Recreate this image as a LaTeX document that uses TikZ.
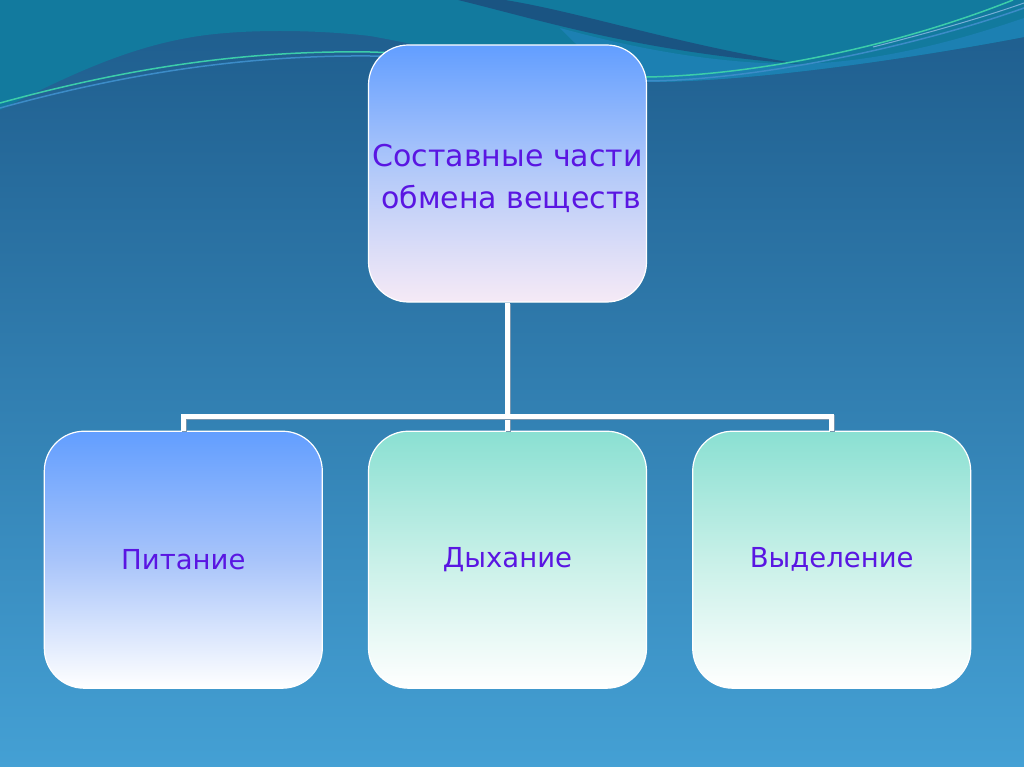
\documentclass[tikz,border=0pt]{standalone}
\usepackage{fontspec}
\setmainfont{DejaVu Sans}
\usetikzlibrary{positioning}

\definecolor{bgtop}{RGB}{30,92,140}
\definecolor{bgbot}{RGB}{68,160,212}
\definecolor{waveteal}{RGB}{18,122,158}
\definecolor{wavedark}{RGB}{26,84,130}
\definecolor{wavelight}{RGB}{28,128,178}
\definecolor{wavegreen}{RGB}{60,205,170}
\definecolor{waveblue}{RGB}{60,140,200}
\definecolor{txt}{RGB}{90,22,226}
\definecolor{skyA}{RGB}{98,158,255}
\definecolor{skyB}{RGB}{168,196,250}
\definecolor{mintA}{RGB}{138,224,210}
\definecolor{mintB}{RGB}{200,240,232}
\definecolor{lilac}{RGB}{246,234,246}
\definecolor{shade}{RGB}{120,150,175}

\begin{document}
\begin{tikzpicture}[x=1pt,y=-1pt,
        node distance=128pt and 45pt,
        block/.style={draw=white, line width=1.2pt, rounded corners=40pt, minimum width=278pt, minimum height=257pt, font=\fontsize{27.5}{41}\selectfont, text=txt, inner sep=0pt},
        topbox/.style={block, top color=skyA, bottom color=lilac, middle color=skyB!85!lilac},
        bluebox/.style={block, top color=skyA, bottom color=white, middle color=skyB},
        tealbox/.style={block, top color=mintA, bottom color=white, middle color=mintB},
        link/.style={draw=white, line width=4.5pt, line join=miter,
            preaction={draw=shade, line width=5pt, transform canvas={shift={(1.2pt,-1.2pt)}}}}
    ]
  \useasboundingbox (0,0) rectangle (1024,767);

  % background and waves
  \fill[top color=bgtop, bottom color=bgbot] (0,0) rectangle (1024,767);
  \fill[waveteal] (0,0) -- (1024,0) -- (1024,37)
      .. controls (930,55) and (760,82) .. (647,82)
      .. controls (560,80) and (450,50) .. (370,36)
      .. controls (320,30) and (240,28) .. (187,38)
      .. controls (120,50) and (60,80) .. (0,110) -- cycle;
  \fill[wavelight] (560,28) .. controls (640,50) and (720,64) .. (800,64)
      .. controls (880,62) and (960,40) .. (1024,18) -- (1024,37)
      .. controls (930,55) and (760,82) .. (647,82)
      .. controls (620,80) and (590,60) .. (560,28) -- cycle;
  \fill[wavedark] (458,0) .. controls (540,20) and (640,52) .. (800,64)
      .. controls (680,45) and (580,12) .. (505,0) -- cycle;
  \draw[waveblue, line width=1.5pt] (0,108) .. controls (120,75) and (240,55) .. (370,56)
      .. controls (480,58) and (560,82) .. (647,81) .. controls (760,80) and (920,45) .. (1024,8);
  \draw[wavegreen, line width=1.5pt] (0,103) .. controls (120,70) and (240,50) .. (370,52)
      .. controls (480,55) and (560,78) .. (647,77) .. controls (760,75) and (900,45) .. (1013,0);
  \draw[waveblue!70!white, line width=1pt] (873,47) .. controls (940,30) and (990,15) .. (1024,3);

  % nodes
  \node (top) [topbox] at (507.5,173.5) {};
  \node (toptext) [text=txt, font=\fontsize{30}{42}\selectfont, align=left, inner sep=0pt]
      at ([yshift=-5pt]top.center) {Составные части\\\hspace{0.3em}обмена веществ};
  \node (breath) [tealbox, below=of top] {Дыхание};
  \node (food) [bluebox, left=of breath] {Питание};
  \node (excr) [tealbox, right=of breath] {Выделение};

  \coordinate (fork) at (507.5,416.5);

  % links
  \draw[link] (top.south) -- (breath.north);
  \draw[link] (food.north) -- (food.north |- fork) -- (excr.north |- fork) -- (excr.north);
\end{tikzpicture}
\end{document}
